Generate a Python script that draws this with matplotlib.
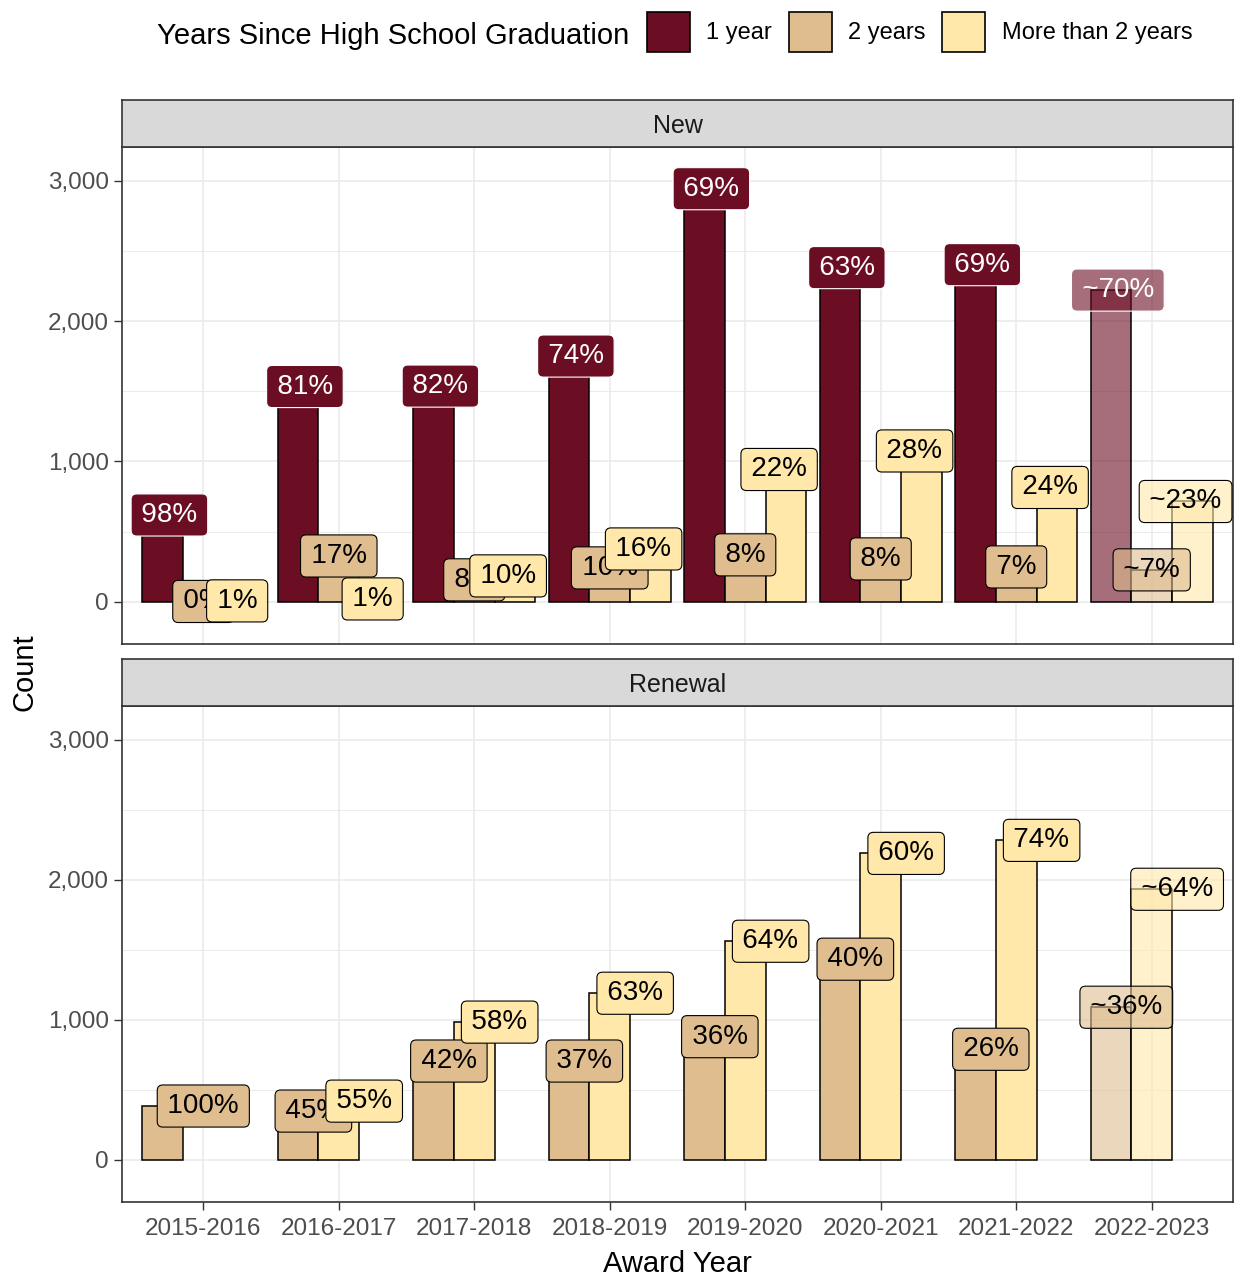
import numpy as np
import matplotlib.pyplot as plt
from matplotlib.patches import Patch
from matplotlib.colors import to_rgba
from matplotlib.ticker import FixedLocator, FuncFormatter

plt.rcParams['font.family'] = ['Liberation Sans', 'DejaVu Sans']

## DATA
years = ['2015-2016', '2016-2017', '2017-2018', '2018-2019',
         '2019-2020', '2020-2021', '2021-2022', '2022-2023']
groups = ['1 year', '2 years', 'More than 2 years']
colors = ['#6B0E23', '#DFBD8F', '#FFE8AA']
projected = [False, False, False, False, False, False, False, True]

# New awards
new_1yr = [619, 1534, 1537, 1751, 2943, 2381, 2402, 2221]
new_2yr = [3, 327, 157, 242, 335, 306, 249, 228]
new_more = [7, 21, 185, 377, 943, 1075, 815, 715]
new_1yr_lab = ['98%', '81%', '82%', '74%', '69%', '63%', '69%', '~70%']
new_2yr_lab = ['0%', '17%', '8%', '10%', '8%', '8%', '7%', '~7%']
new_more_lab = ['1%', '1%', '10%', '16%', '22%', '28%', '24%', '~23%']

# Renewal awards (no 1 year students, no "more" in 2015-2016)
ren_1yr = [None] * 8
ren_2yr = [385, 349, 706, 706, 880, 1433, 790, 1090]
ren_more = [None, 420, 984, 1190, 1561, 2188, 2281, 1932]
ren_1yr_lab = [None] * 8
ren_2yr_lab = ['100%', '45%', '42%', '37%', '36%', '40%', '26%', '~36%']
ren_more_lab = [None, '55%', '58%', '63%', '64%', '60%', '74%', '~64%']

bar_w = 0.3        # 0.9 dodge split over 3 slots
label_dodge = 0.75

W, H = 1235, 1279
fig = plt.figure(figsize=(W / 100, H / 100), dpi=100)


def fy(py):
    return 1 - py / H


def draw_panel(ax, counts, labels):
    # bars (preserve single -> left aligned slots)
    for i in range(len(years)):
        present = [g for g in range(3) if counts[g][i] is not None]
        a = 0.6 if projected[i] else 1.0
        for k, g in enumerate(present):
            ax.bar(i + (k - 1) * bar_w, counts[g][i], width=bar_w,
                   color=to_rgba(colors[g], a), edgecolor='black',
                   linewidth=1.1, zorder=2)
    # labels on top of all bars
    for i in range(len(years)):
        present = [g for g in range(3) if counts[g][i] is not None]
        n = len(present)
        a = 0.6 if projected[i] else 1.0
        for k, g in enumerate(present):
            xl = i + (k - (n - 1) / 2) * label_dodge / n
            tc = 'white' if g == 0 else 'black'
            # hair spaces widen the box a little
            ax.text(xl, counts[g][i], '\u200a' + labels[g][i] + '\u200a',
                    ha='center', va='center', fontsize=20, color=tc, zorder=4,
                    bbox=dict(boxstyle='round,pad=0.29,rounding_size=0.2',
                              facecolor=to_rgba(colors[g], a), edgecolor=tc,
                              linewidth=0.8))

    ax.set_xlim(-0.6, len(years) - 0.4)
    ax.set_ylim(-300, 3240)
    ax.set_xticks(range(len(years)))
    ax.yaxis.set_major_locator(FixedLocator([0, 1000, 2000, 3000]))
    ax.yaxis.set_minor_locator(FixedLocator([500, 1500, 2500]))
    ax.yaxis.set_major_formatter(FuncFormatter(lambda v, p: '{:,.0f}'.format(v)))
    ax.grid(which='major', color='#EBEBEB', linewidth=1.2, zorder=0)
    ax.grid(which='minor', axis='y', color='#EBEBEB', linewidth=0.7, zorder=0)
    ax.set_axisbelow(True)
    ax.tick_params(axis='both', which='major', length=5.5, width=1, color='#333333',
                   labelcolor='#4D4D4D', labelsize=17.5, pad=4)
    ax.tick_params(axis='x', pad=6)
    ax.tick_params(axis='y', which='minor', length=0)
    for s in ax.spines.values():
        s.set_color('#333333')
        s.set_linewidth(1.2)


def draw_strip(rect, title):
    sax = fig.add_axes(rect)
    sax.set_facecolor('#D9D9D9')
    sax.set_xticks([])
    sax.set_yticks([])
    for s in sax.spines.values():
        s.set_color('#333333')
        s.set_linewidth(1.2)
    sax.text(0.5, 0.45, title, ha='center', va='center', fontsize=18,
             color='#1A1A1A', transform=sax.transAxes)


left, right = 122 / W, 1233 / W
ax1 = fig.add_axes([left, fy(644), right - left, fy(147) - fy(644)])
ax2 = fig.add_axes([left, fy(1202), right - left, fy(706) - fy(1202)])
draw_strip([left, fy(147), right - left, fy(100) - fy(147)], 'New')
draw_strip([left, fy(706), right - left, fy(659) - fy(706)], 'Renewal')

draw_panel(ax1, [new_1yr, new_2yr, new_more], [new_1yr_lab, new_2yr_lab, new_more_lab])
draw_panel(ax2, [ren_1yr, ren_2yr, ren_more], [ren_1yr_lab, ren_2yr_lab, ren_more_lab])

ax1.tick_params(axis='x', length=0, labelbottom=False)
ax2.set_xticklabels(years)

fig.text((left + right) / 2, fy(1264), 'Award Year', ha='center', va='center', fontsize=21)
fig.text(25 / W, fy(672), 'Count', ha='center', va='center', rotation=90, fontsize=21)

# legend on top, title on the left
fig.text(157 / W, fy(36), 'Years Since High School Graduation', ha='left', va='center',
         fontsize=21)
handles = [Patch(facecolor=c, edgecolor='black', linewidth=1.2) for c in colors]
fig.legend(handles, groups, loc='center left', bbox_to_anchor=(647 / W, fy(32)),
           ncol=3, frameon=False, fontsize=17, handlelength=1.82, handleheight=2.23,
           handletextpad=0.7, columnspacing=0.7, borderpad=0, borderaxespad=0)

fig.savefig('out.png', dpi=100)
